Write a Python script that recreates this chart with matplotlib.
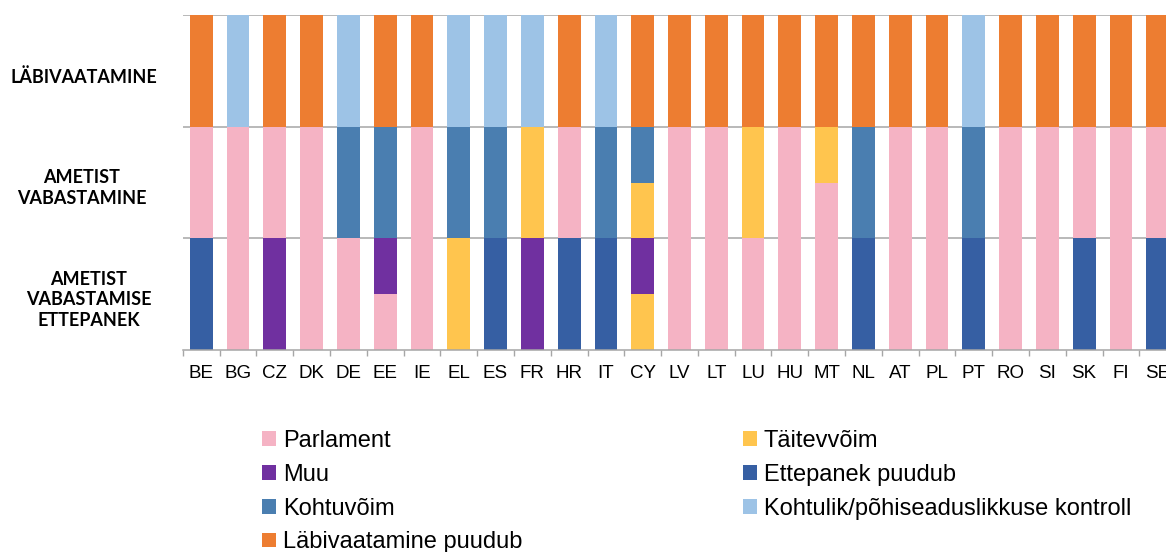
import numpy as np
import matplotlib
matplotlib.use("Agg")
import matplotlib.pyplot as plt
from matplotlib.transforms import blended_transform_factory

countries = ["BE", "BG", "CZ", "DK", "DE", "EE", "IE", "EL", "ES", "FR", "HR", "IT", "CY", "LV",
             "LT", "LU", "HU", "MT", "NL", "AT", "PL", "PT", "RO", "SI", "SK", "FI", "SE"]

# alumine rida: ametist vabastamise ettepanek
ettepanek_parlament = [0, 1, 0, 1, 1, .5, 1, 0, 0, 0, 0, 0, 0, 1, 1, 1, 1, 1, 0, 1, 1, 0, 1, 1, 0, 1, 0]
ettepanek_taitev    = [0, 0, 0, 0, 0, 0, 0, 1, 0, 0, 0, 0, .5, 0, 0, 0, 0, 0, 0, 0, 0, 0, 0, 0, 0, 0, 0]
ettepanek_muu       = [0, 0, 1, 0, 0, .5, 0, 0, 0, 1, 0, 0, .5, 0, 0, 0, 0, 0, 0, 0, 0, 0, 0, 0, 0, 0, 0]
ettepanek_puudub    = [1, 0, 0, 0, 0, 0, 0, 0, 1, 0, 1, 1, 0, 0, 0, 0, 0, 0, 1, 0, 0, 1, 0, 0, 1, 0, 1]

# keskmine rida: ametist vabastamine
vabastamine_parlament = [1, 1, 1, 1, 0, 0, 1, 0, 0, 0, 1, 0, 0, 1, 1, 0, 1, .5, 0, 1, 1, 0, 1, 1, 1, 1, 1]
vabastamine_taitev    = [0, 0, 0, 0, 0, 0, 0, 0, 0, 1, 0, 0, .5, 0, 0, 1, 0, .5, 0, 0, 0, 0, 0, 0, 0, 0, 0]
vabastamine_kohus     = [0, 0, 0, 0, 1, 1, 0, 1, 1, 0, 0, 1, .5, 0, 0, 0, 0, 0, 1, 0, 0, 1, 0, 0, 0, 0, 0]

# ülemine rida: läbivaatamine
labivaatamine_kontroll = [0, 1, 0, 0, 1, 0, 0, 1, 1, 1, 0, 1, 0, 0, 0, 0, 0, 0, 0, 0, 0, 1, 0, 0, 0, 0, 0]
labivaatamine_puudub   = [1, 0, 1, 1, 0, 1, 1, 0, 0, 0, 1, 0, 1, 1, 1, 1, 1, 1, 1, 1, 1, 0, 1, 1, 1, 1, 1]

row_labels = ["AMETIST\nVABASTAMISE\nETTEPANEK", "AMETIST\nVABASTAMINE", "LÄBIVAATAMINE"]

c_parlament = "#F5B3C4"
c_taitev = "#FFC54E"
c_muu = "#7030A0"
c_puudub = "#365FA3"
c_kohus = "#4A7EB0"
c_kontroll = "#9DC3E6"
c_labiv = "#ED7D31"

rows = [
    [(ettepanek_parlament, c_parlament, "Parlament"),
     (ettepanek_taitev, c_taitev, "Täitevvõim"),
     (ettepanek_muu, c_muu, "Muu"),
     (ettepanek_puudub, c_puudub, "Ettepanek puudub")],
    [(vabastamine_parlament, c_parlament, None),
     (vabastamine_taitev, c_taitev, None),
     (vabastamine_kohus, c_kohus, "Kohtuvõim")],
    [(labivaatamine_kontroll, c_kontroll, "Kohtulik/põhiseaduslikkuse kontroll"),
     (labivaatamine_puudub, c_labiv, "Läbivaatamine puudub")],
]

fig = plt.figure(figsize=(11.66, 5.52), dpi=100)
# plot area runs a little past the right edge, so the last column is clipped
ax = fig.add_axes([0.1568, 0.3659, 0.8519, 0.6064])

x = np.arange(len(countries))
handles = {}
for r, series in enumerate(rows):
    base = np.full(len(countries), float(r))
    for vals, col, lab in series:
        vals = np.array(vals, dtype=float)
        b = ax.bar(x, vals, bottom=base, width=0.62, color=col, zorder=2)
        if lab is not None:
            handles[lab] = b
        base += vals

for yy in [1, 2, 3]:
    ax.axhline(yy, color="#A6A6A6", lw=1.1, zorder=1)

ax.set_xlim(-0.5, len(countries) - 0.5)
ax.set_ylim(0, 3)
for s in ["top", "right", "left"]:
    ax.spines[s].set_visible(False)
ax.spines["bottom"].set_color("#A6A6A6")
ax.spines["bottom"].set_linewidth(1.1)
ax.set_yticks([])

ax.set_xticks(x)
ax.set_xticklabels(countries, fontsize=13.5, family="Liberation Sans")
ax.tick_params(axis="x", which="major", length=0, pad=11)
ax.set_xticks(np.arange(len(countries) + 1) - 0.5, minor=True)
ax.tick_params(axis="x", which="minor", length=4, width=1, color="#A6A6A6")

trans = blended_transform_factory(fig.transFigure, ax.transData)
label_x = [89 / 1166, 82 / 1166, 84 / 1166]
for r, txt in enumerate(row_labels):
    ax.text(label_x[r], r + 0.45, txt, transform=trans, ha="center", va="center",
            fontsize=13, fontweight="bold", family="Lato", linespacing=1.25)

col1 = ["Parlament", "Muu", "Kohtuvõim", "Läbivaatamine puudub"]
col2 = ["Täitevvõim", "Ettepanek puudub", "Kohtulik/põhiseaduslikkuse kontroll"]
for names, xpos in [(col1, 262 / 1166), (col2, 743 / 1166)]:
    fig.legend([handles[n] for n in names], names, loc="upper left",
               bbox_to_anchor=(xpos, 1 - 430 / 552), frameon=False,
               prop={"family": "Liberation Sans", "size": 17},
               handlelength=0.58, handleheight=0.58, handletextpad=0.3,
               labelspacing=0.5, borderpad=0, borderaxespad=0)

fig.savefig("out.png", dpi=100)
